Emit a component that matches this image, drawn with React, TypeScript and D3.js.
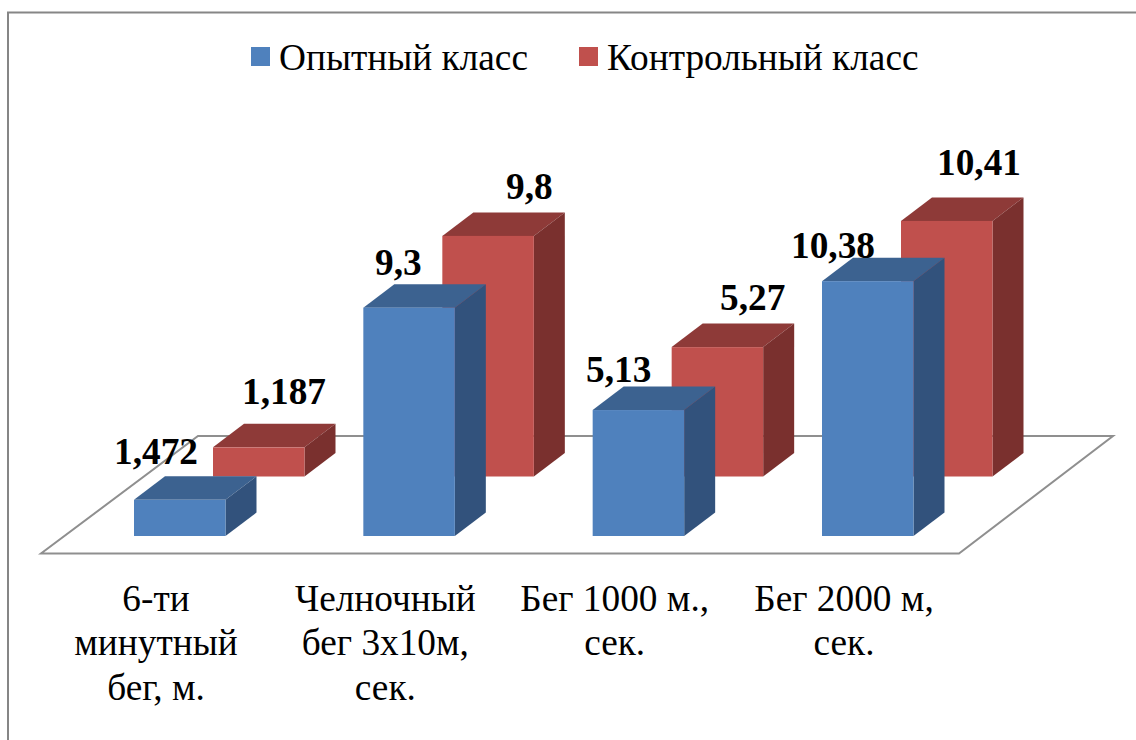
import React, { useRef, useEffect } from 'react';
import * as d3 from 'd3';

const categories = [
  ['6-ти', 'минутный', 'бег, м.'],
  ['Челночный', 'бег 3х10м,', 'сек.'],
  ['Бег 1000 м.,', 'сек.'],
  ['Бег 2000 м,', 'сек.'],
];
const seriesNames = ['Опытный класс', 'Контрольный класс'];
const experimental = [1.472, 9.3, 5.13, 10.38];
const control = [1.187, 9.8, 5.27, 10.41];
const experimentalLabels = ['1,472', '9,3', '5,13', '10,38'];
const controlLabels = ['1,187', '9,8', '5,27', '10,41'];

// hand-placed data labels, offset from the front-left corner of the bar top
const experimentalNudge = [[22, -36], [35, -33], [26, -28.5], [11, -23]];
const controlNudge = [[71, -43], [87, -37], [81, -37.5], [78, -46]];

const WIDTH = 1136;
const HEIGHT = 740;
const SERIF = '"Liberation Serif", serif';

const App = () => {
  const svgRef = useRef<SVGSVGElement>(null);

  useEffect(() => {
    const svg = d3.select(svgRef.current);
    svg.selectAll('*').remove();

    svg.attr('width', WIDTH).attr('height', HEIGHT)
      .style('position', 'absolute').style('left', 0).style('top', 0)
      .style('background', '#fff');

    // chart border, only top and left are visible in the crop
    svg.append('path')
      .attr('d', `M8,${HEIGHT}V12.5H${WIDTH}`)
      .attr('fill', 'none').attr('stroke', '#868686').attr('stroke-width', 2);

    // floor
    svg.append('path')
      .attr('d', 'M41,553.5H959L1113,436H198Z')
      .attr('fill', 'none').attr('stroke', '#8f8f8f').attr('stroke-width', 2)
      .attr('stroke-linejoin', 'miter');

    const x = d3.scalePoint<number>().domain(d3.range(categories.length)).range([134, 822]);
    const h = d3.scaleLinear().domain([0, 10]).range([0, 245.5]);
    const barW = 91.5;
    const depthX = 31;
    const depthY = 23.5;

    const poly = d3.line();
    const drawSeries = (
      values: number[], labels: string[], nudge: number[][],
      dx: number, base: number, front: string, top: string, side: string,
    ) => {
      const g = svg.append('g');
      values.forEach((v, i) => {
        const x0 = x(i)! + dx;
        const x1 = x0 + barW;
        const y0 = base - h(v);
        const bar = g.append('g');
        bar.append('path')
          .attr('d', poly([[x0, y0], [x0 + depthX, y0 - depthY], [x1 + depthX, y0 - depthY], [x1, y0]]))
          .attr('fill', top);
        bar.append('path')
          .attr('d', poly([[x1, y0], [x1 + depthX, y0 - depthY], [x1 + depthX, base - depthY], [x1, base]]))
          .attr('fill', side);
        bar.append('rect')
          .attr('x', x0).attr('y', y0).attr('width', barW).attr('height', base - y0)
          .attr('fill', front);
      });
      return { labels, nudge, values, dx, base };
    };

    const red = drawSeries(control, controlLabels, controlNudge, 79, 476.5, '#C0504D', '#8E3A38', '#7A302E');
    const blue = drawSeries(experimental, experimentalLabels, experimentalNudge, 0, 536, '#4F81BD', '#3C6290', '#32527C');

    [blue, red].forEach(s => {
      svg.append('g').selectAll('text').data(s.labels).join('text')
        .attr('x', (_, i) => x(i)! + s.dx + s.nudge[i][0])
        .attr('y', (_, i) => s.base - h(s.values[i]) + s.nudge[i][1])
        .attr('text-anchor', 'middle')
        .attr('font-family', SERIF).attr('font-size', 37.3).attr('font-weight', 'bold')
        .attr('fill', '#000')
        .text(d => d);
    });

    // category labels
    categories.forEach((lines, i) => {
      const t = svg.append('text')
        .attr('text-anchor', 'middle')
        .attr('font-family', SERIF).attr('font-size', 37.3).attr('fill', '#000');
      lines.forEach((line, j) => {
        t.append('tspan')
          .attr('x', x(i)! + 22)
          .attr('y', 611 + j * 44.4)
          .text(line);
      });
    });

    // legend
    const legendX = [251, 579];
    const legendColors = ['#4F81BD', '#C0504D'];
    seriesNames.forEach((name, i) => {
      svg.append('rect')
        .attr('x', legendX[i]).attr('y', 47).attr('width', 19).attr('height', 19)
        .attr('fill', legendColors[i]);
      svg.append('text')
        .attr('x', legendX[i] + 28).attr('y', 69.5)
        .attr('font-family', SERIF).attr('font-size', 37.3).attr('fill', '#000')
        .text(name);
    });
  }, []);

  return <svg ref={svgRef} />;
};

export default App;
